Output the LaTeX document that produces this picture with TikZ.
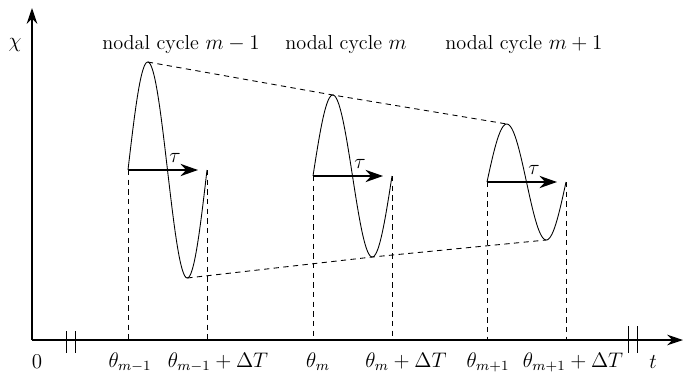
\documentclass[tikz,border=0pt]{standalone}
\usepackage{amsmath,amssymb}
\usetikzlibrary{arrows.meta,calc,positioning}

\begin{document}
\begin{tikzpicture}[x=0.02cm, y=-0.02cm,
  axis/.style={-{Stealth[length=9pt,width=6pt]}, line width=0.6pt},
  wave/.style={line width=0.5pt},
  guide/.style={dash pattern=on 3pt off 2.5pt, line width=0.5pt},
  tauarr/.style={-{Stealth[length=10pt,width=7pt]}, line width=0.7pt},
  brk/.style={line width=0.5pt},
  ann/.style={inner sep=1pt, font=\fontsize{11.5}{13}\selectfont}
]
\useasboundingbox (0,0) rectangle (683,376);
% axes
\coordinate (O) at (32,340);
\draw[axis] (O) -- (683,340) coordinate (tend);
\draw[axis] (O) -- (32,8) coordinate (chiend);
\node[ann] (chi) at (15,45) {$\chi$};
\node[ann] (tlab) at (653,362) {$t$};
\node[ann] (zero) at (37,362) {$0$};
% axis breaks
\draw[brk] (66,331) -- (66,353);
\draw[brk] (75,331) -- (75,353);
\draw[brk] (628,326) -- (628,353);
\draw[brk] (637,326) -- (637,353);
% the three cycles
\foreach \n/\xs/\ys/\amp in {a/128/170/108, b/313/176/81, c/487/182/58}{
  \draw[wave] plot[domain=0:79, samples=80, smooth] ({\xs+\x}, {\ys-\amp*sin(\x/79*360)});
  \coordinate (start-\n) at (\xs,\ys);
  \coordinate (end-\n) at (\xs+79,\ys);
  \coordinate (top-\n) at (\xs+19.75,\ys-\amp);
  \coordinate (bot-\n) at (\xs+59.25,\ys+\amp);
  \draw[guide] (start-\n) -- (start-\n |- O);
  \draw[guide] (end-\n) -- (end-\n |- O);
  \draw[tauarr] (start-\n) -- ++(70,0) coordinate (tip-\n);
  \node[ann] (tau-\n) at ($(start-\n)+(47,-12)$) {$\tau$};
}
% envelopes
\draw[guide] (top-a) -- (top-b) -- (top-c);
\draw[guide] (bot-a) -- (bot-b) -- (bot-c);
% titles
\node[ann] (cyc-a) at (181,45) {nodal cycle $m-1$};
\node[ann] (cyc-b) at (346,45) {nodal cycle $m$};
\node[ann] (cyc-c) at (524,45) {nodal cycle $m+1$};
% tick labels
\node[ann] (th-a) at (130,362) {$\theta_{m-1}$};
\node[ann] (thd-a) at (218,362) {$\theta_{m-1}+\Delta T$};
\node[ann] (th-b) at (318,362) {$\theta_{m}$};
\node[ann] (thd-b) at (406,362) {$\theta_{m}+\Delta T$};
\node[ann] (th-c) at (488,362) {$\theta_{m+1}$};
\node[ann] (thd-c) at (573,362) {$\theta_{m+1}+\Delta T$};
\end{tikzpicture}
\end{document}
